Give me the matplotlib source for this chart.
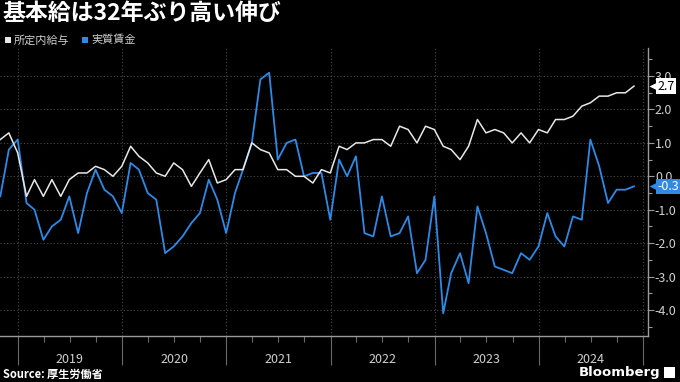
import numpy as np
import pandas as pd
import matplotlib
matplotlib.use('Agg')
from matplotlib import pyplot as plt
import matplotlib.dates as mdates
from matplotlib.patches import Rectangle
from matplotlib.transforms import blended_transform_factory

# 字体：日文用 Noto Sans CJK JP
plt.rcParams['font.family'] = ['Noto Sans CJK JP', 'DejaVu Sans']

# 数据：月末日期 2018年10月 - 2024年11月
months = pd.date_range('2018-10-31', '2024-11-30', freq='ME')

# 所定内給与 (前年比 %)
base_pay = [1.1, 1.3, 0.7,
            -0.6, -0.1, -0.6, -0.1, -0.6, -0.1, 0.1, 0.1, 0.3, 0.2, 0.0, 0.3,
            0.9, 0.6, 0.4, 0.1, 0.0, 0.4, 0.2, -0.3, 0.1, 0.5, -0.2, -0.1,
            0.2, 0.2, 1.0, 0.8, 0.7, 0.2, 0.2, 0.0, 0.0, -0.2, 0.2, 0.1,
            0.9, 0.8, 1.0, 1.0, 1.1, 1.1, 0.9, 1.5, 1.4, 1.0, 1.5, 1.4,
            0.9, 0.8, 0.5, 0.9, 1.7, 1.3, 1.4, 1.3, 1.0, 1.3, 1.0, 1.4,
            1.3, 1.7, 1.7, 1.8, 2.1, 2.2, 2.4, 2.4, 2.5, 2.5, 2.7]

# 実質賃金 (前年比 %)
real_wage = [-0.6, 0.8, 1.1,
             -0.8, -1.0, -1.9, -1.5, -1.3, -0.6, -1.7, -0.5, 0.2, -0.4, -0.6, -1.1,
             0.4, 0.2, -0.5, -0.7, -2.3, -2.1, -1.8, -1.4, -1.1, -0.1, -0.7, -1.7,
             -0.5, 0.2, 1.0, 2.9, 3.1, 0.5, 1.0, 1.1, 0.0, 0.1, 0.1, -1.3,
             0.5, 0.0, 0.6, -1.7, -1.8, -0.6, -1.8, -1.7, -1.2, -2.9, -2.5, -0.6,
             -4.1, -2.9, -2.3, -3.2, -0.9, -1.7, -2.7, -2.8, -2.9, -2.3, -2.5, -2.1,
             -1.1, -1.8, -2.1, -1.2, -1.3, 1.1, 0.3, -0.8, -0.4, -0.4, -0.3]

series_names = ['所定内給与', '実質賃金']
series_colors = ['#e8e8e8', '#2f8ae6']
years = list(range(2019, 2025))
y_ticks = [3.0, 2.0, 1.0, 0.0, -1.0, -2.0, -3.0, -4.0]

grid_col = '#4a4a4a'
text_col = '#cfcfcf'

fig = plt.figure(figsize=(6.8, 3.82), dpi=100, facecolor='black')
ax = fig.add_axes([0.0, 0.1204, 0.9529, 0.7539])
ax.set_facecolor('black')

# 两条折线
ax.plot(months, base_pay, color=series_colors[0], lw=1.1, zorder=3)
ax.plot(months, real_wage, color=series_colors[1], lw=1.3, zorder=2)

ax.set_ylim(-4.78, 3.84)
ax.set_xlim(pd.Timestamp('2018-10-30'), pd.Timestamp('2025-01-18'))

# 网格线
for v in y_ticks:
    ax.axhline(v, color=grid_col, lw=0.8, ls=(0, (1, 2)), zorder=1)
for yr in years + [2025]:
    ax.axvline(pd.Timestamp(f'{yr}-01-01'), color=grid_col, lw=0.8, ls=(0, (1, 2)), zorder=1)

# 坐标轴
for s in ['top', 'left']:
    ax.spines[s].set_visible(False)
ax.spines['bottom'].set_color('#9a9a9a')
ax.spines['right'].set_color('#9a9a9a')
ax.spines['bottom'].set_linewidth(1.0)
ax.spines['right'].set_linewidth(1.0)

ax.yaxis.tick_right()
ax.set_yticks(y_ticks)
ax.set_yticklabels([f'{v:.1f}' for v in y_ticks])
ax.set_yticks(np.arange(-4.5, 3.6, 1.0), minor=True)
ax.tick_params(axis='y', which='major', colors='#9a9a9a', labelcolor=text_col,
               length=4, width=0.8, pad=1, labelsize=9)
ax.tick_params(axis='y', which='minor', colors='#9a9a9a', length=3, width=0.8)

ax.xaxis.set_major_locator(mdates.YearLocator())
ax.xaxis.set_minor_locator(mdates.MonthLocator(bymonth=[4, 7, 10]))
ax.xaxis.set_major_formatter(plt.NullFormatter())
ax.tick_params(axis='x', which='major', colors='#6a6a6a', length=21, width=0.8)
ax.tick_params(axis='x', which='minor', colors='#6a6a6a', length=4, width=0.8)

# 年份标签放在每年中间
tr = blended_transform_factory(ax.transData, ax.transAxes)
for yr in years:
    ax.text(pd.Timestamp(f'{yr}-07-02'), -0.08, str(yr), transform=tr,
            ha='center', va='center', color=text_col, fontsize=9)

# 最新值标签
tr_y = blended_transform_factory(ax.transAxes, ax.transData)
last_vals = [base_pay[-1], real_wage[-1]]
tag_fc = ['white', '#2f8ae6']
tag_tc = ['black', 'white']
for v, fc, tc in zip(last_vals, tag_fc, tag_tc):
    ax.text(1.015, v, f'{v:.1f}', transform=tr_y, ha='left', va='center',
            color=tc, fontsize=9, zorder=6, clip_on=False,
            bbox=dict(boxstyle='square,pad=0.1', fc=fc, ec='none'))
    ax.plot([1.008], [v], marker='<', ms=5.5, color=fc, mec='none',
            transform=tr_y, clip_on=False, zorder=6)

# 标题
fig.text(0.003, 0.995, '基本給は32年ぶり高い伸び', color='white', fontsize=16.5,
         fontweight='bold', ha='left', va='top')

# 图例
leg_x = [5, 82]
for x0, name, col in zip(leg_x, series_names, series_colors):
    fig.patches.append(Rectangle((x0 / 680, 1 - 43 / 382), 6 / 680, 6 / 382,
                                 transform=fig.transFigure, fc=col, ec='none'))
    fig.text((x0 + 9) / 680, 1 - 40 / 382, name, color=text_col, fontsize=8,
             ha='left', va='center')

# 来源和 Bloomberg
fig.text(0.004, 0.02, 'Source: 厚生労働省', color='white', fontsize=8,
         fontweight='bold', ha='left', va='center')
fig.text(0.971, 0.024, 'Bloomberg', color='white', fontsize=9.5,
         fontweight='bold', ha='right', va='center', family='DejaVu Sans')
fig.patches.append(Rectangle((664 / 680, 4 / 382), 11 / 680, 11 / 382,
                             transform=fig.transFigure, fc='white', ec='none'))

fig.savefig('out.png', dpi=100, facecolor='black')
